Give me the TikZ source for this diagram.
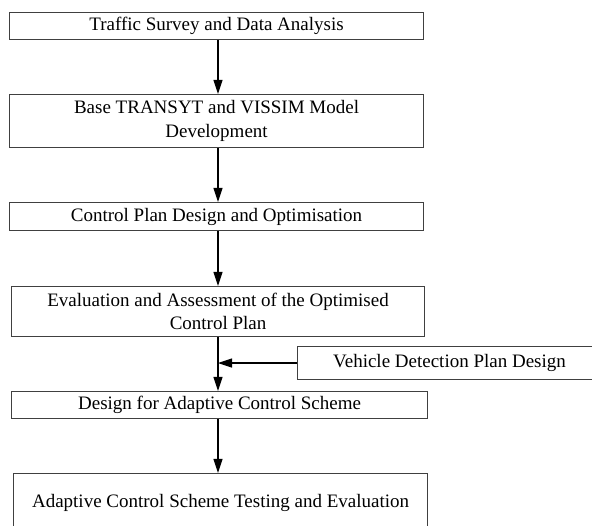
\documentclass[tikz,border=0pt]{standalone}
\usepackage{fontspec}
\setmainfont{Liberation Serif}
\usetikzlibrary{arrows.meta}
\begin{document}
\begin{tikzpicture}[x=1pt,y=-1pt,
  box/.style={draw=black!75,line width=1.1pt,rectangle,inner sep=0pt,anchor=north west,align=center,font=\fontsize{19}{23.5}\selectfont},
  arr/.style={draw=black,line width=1.1pt,-{Triangle[length=14pt,width=9pt]}}]
\useasboundingbox (0,0) rectangle (592,526);
\node[box,minimum width=414pt,minimum height=27pt] (b1) at (9,12) {Traffic Survey and Data Analysis};
\node[box,minimum width=414pt,minimum height=53pt] (b2) at (9,94) {Base TRANSYT and VISSIM Model\\Development};
\node[box,minimum width=414pt,minimum height=28pt] (b3) at (9,202) {Control Plan Design and Optimisation};
\node[box,minimum width=413pt,minimum height=50pt] (b4) at (11,286) {Evaluation and Assessment of the Optimised\\Control Plan};
\node[box,minimum width=304pt,minimum height=33pt] (v) at (297,346) {Vehicle Detection Plan Design};
\node[box,minimum width=416pt,minimum height=27pt] (b5) at (11,391) {Design for Adaptive Control Scheme};
\node[box,minimum width=414pt,minimum height=58pt] (b6) at (13,473) {Adaptive Control Scheme Testing and Evaluation};
\coordinate (j) at (218,362);
\draw[arr] (b1.south -| j) -- (b2.north -| j);
\draw[arr] (b2.south -| j) -- (b3.north -| j);
\draw[arr] (b3.south -| j) -- (b4.north -| j);
\draw[arr] (b4.south -| j) -- (b5.north -| j);
\draw[arr] (b5.south -| j) -- (b6.north -| j);
\draw[arr] (v.west) -- (v.west -| j);
\end{tikzpicture}
\end{document}
